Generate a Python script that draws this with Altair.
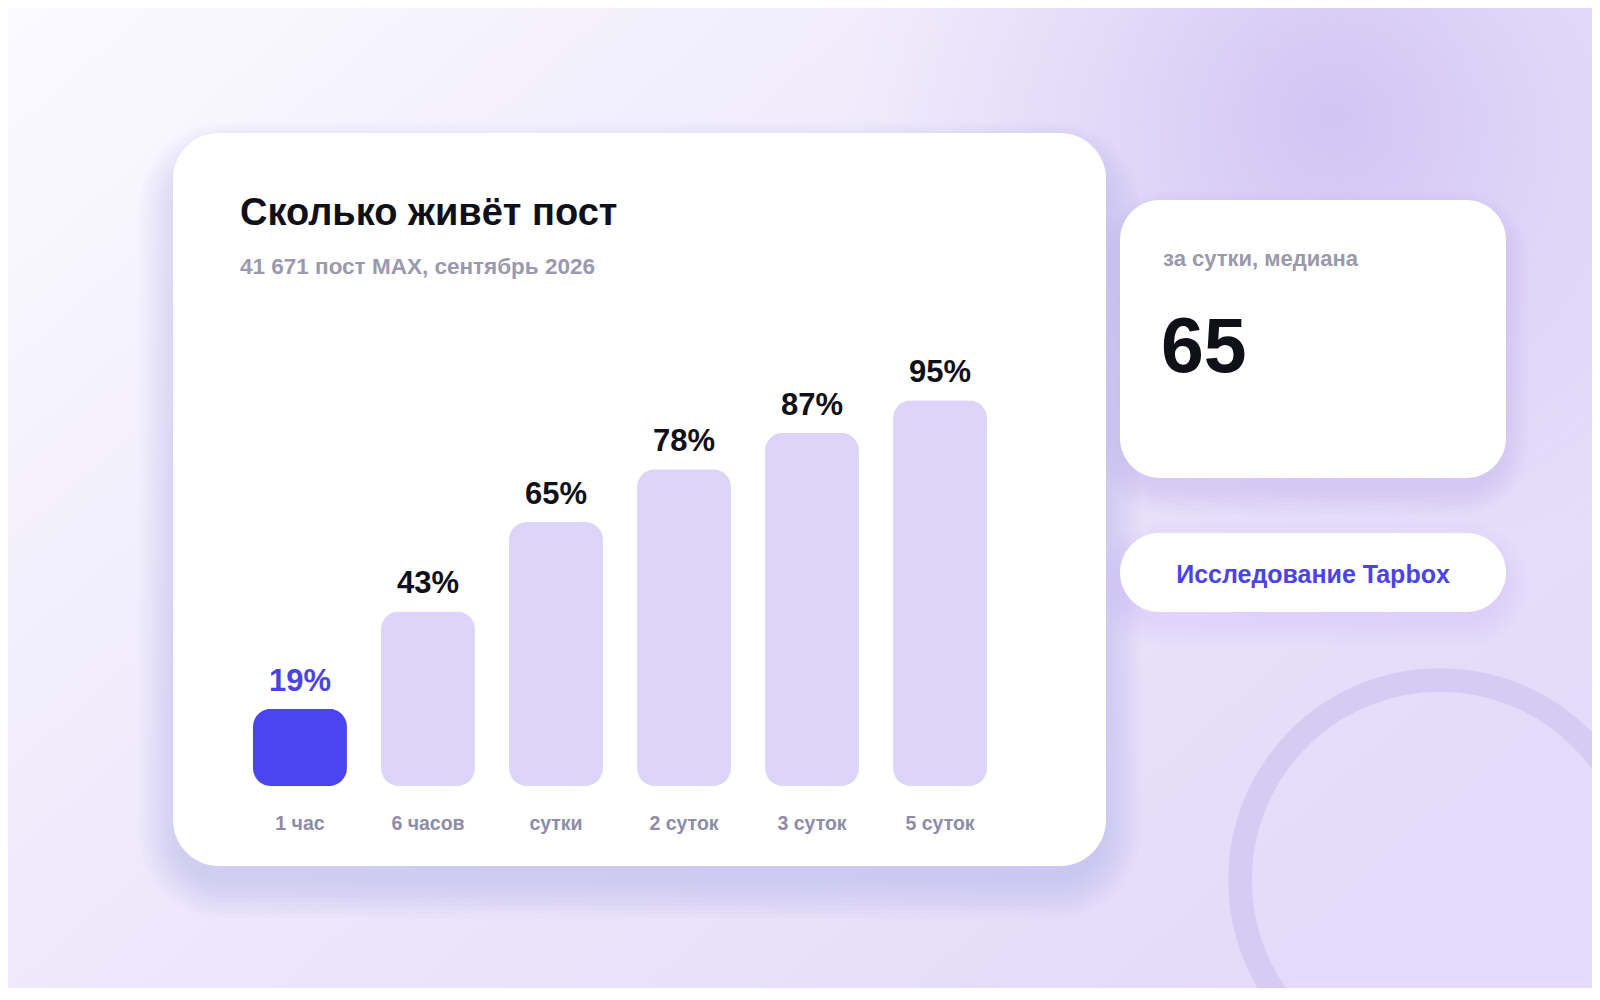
import altair as alt
import pandas as pd

# ---- data ----
categories = ["1 час", "6 часов", "сутки", "2 суток", "3 суток", "5 суток"]
values = [19, 43, 65, 78, 87, 95]
highlight = [1, 0, 0, 0, 0, 0]

title_text = "Сколько живёт пост"
subtitle_text = "41 671 пост MAX, сентябрь 2026"
side_caption = "за сутки, медиана"
side_value = "65"
pill_text = "Исследование Tapbox"

# ---- layout / style ----
W, H = 1584, 980
FONT = "Liberation Sans, Arial, Helvetica, sans-serif"
BAR_HI = "#4b45f0"
BAR_LO = "#ddd4f9"
TXT_DARK = "#101018"
TXT_GRAY = "#8e8ca6"
ACCENT = "#4a43e6"

df = pd.DataFrame({"cat": categories, "value": values, "hi": highlight})
df["label"] = [f"{v}%" for v in values]
one = pd.DataFrame({"k": [0]})


def rect(x0, x1, y0, y1, **kw):
    return alt.Chart(one).mark_rect(**kw).encode(
        x=alt.value(x0), x2=alt.value(x1), y=alt.value(y0), y2=alt.value(y1)
    )


def label(text, x, y, **kw):
    return alt.Chart(one).mark_text(text=text, font=FONT, **kw).encode(
        x=alt.value(x), y=alt.value(y)
    )


layers = []

# background
layers.append(rect(0, W, 0, H, fill=alt.LinearGradient(
    gradient="linear",
    stops=[alt.GradientStop(color="#fbfaff", offset=0),
           alt.GradientStop(color="#ede8fb", offset=0.5),
           alt.GradientStop(color="#e3dbf9", offset=1)],
    x1=0, y1=0, x2=1, y2=0.7)))
layers.append(rect(850, 1800, -300, 520, fill=alt.RadialGradient(
    gradient="radial",
    stops=[alt.GradientStop(color="rgba(204,188,242,0.8)", offset=0),
           alt.GradientStop(color="rgba(204,188,242,0.32)", offset=0.5),
           alt.GradientStop(color="rgba(204,188,242,0)", offset=1)],
    x1=0.5, y1=0.5, r1=0, x2=0.5, y2=0.5, r2=0.5)))

# decorative ring
layers.append(alt.Chart(one).mark_point(
    shape="circle", filled=False, size=160000, strokeWidth=23.5,
    color="#d5cbf3", opacity=1).encode(x=alt.value(1432), y=alt.value(872)))

# shadows
for k in range(1, 11):
    e = 4 * k
    layers.append(rect(165 - e + 6, 1098 + e - 6, 125 - e + 30, 858 + e + 12,
                       color="#8a72de", opacity=0.024, cornerRadius=46 + e))
for k in range(1, 8):
    e = 4 * k
    layers.append(rect(1112 - e + 6, 1498 + e - 6, 192 - e + 20, 470 + e + 8,
                       color="#8a72de", opacity=0.02, cornerRadius=40 + e))
    layers.append(rect(1112 - e + 6, 1498 + e - 6, 525 - e + 16, 604 + e + 6,
                       color="#8a72de", opacity=0.012, cornerRadius=40 + e))

# cards
layers.append(rect(165, 1098, 125, 858, color="#ffffff", cornerRadius=46))
layers.append(rect(1112, 1498, 192, 470, color="#ffffff", cornerRadius=40))
layers.append(rect(1112, 1498, 525, 604, color="#ffffff", cornerRadius=39.5))

# texts in cards
layers.append(label(title_text, 232, 217, fontSize=38, fontWeight="bold",
                    color=TXT_DARK, align="left", baseline="alphabetic"))
layers.append(label(subtitle_text, 232, 266, fontSize=22.5, fontWeight="bold",
                    color="#9a99ae", align="left", baseline="alphabetic"))
layers.append(label(side_caption, 1155, 258, fontSize=22, fontWeight="bold",
                    color="#9a99ae", align="left", baseline="alphabetic"))
layers.append(label(side_value, 1153, 364, fontSize=77, fontWeight="bold",
                    color=TXT_DARK, align="left", baseline="alphabetic"))
layers.append(label(pill_text, 1305, 575, fontSize=25, fontWeight="bold",
                    color=ACCENT, align="center", baseline="alphabetic"))

# bar chart
xenc = alt.X("cat:N", sort=categories, axis=None,
             scale=alt.Scale(range=[245, 979], paddingInner=0.266, paddingOuter=0))
yenc = alt.Y("value:Q", axis=None, scale=alt.Scale(domain=[0, 100], range=[778, 372]))

base = alt.Chart(df)
bars = base.mark_bar(cornerRadius=18).encode(
    x=xenc, y=yenc,
    color=alt.condition(alt.datum.hi == 1, alt.value(BAR_HI), alt.value(BAR_LO)),
)
vals = base.mark_text(font=FONT, fontSize=31, fontWeight="bold", dy=-18,
                      baseline="alphabetic", align="center").encode(
    x=xenc, y=yenc, text="label:N",
    color=alt.condition(alt.datum.hi == 1, alt.value(ACCENT), alt.value(TXT_DARK)),
)
xlabels = base.mark_text(font=FONT, fontSize=19.5, fontWeight="bold", color=TXT_GRAY,
                         baseline="alphabetic", align="center").encode(
    x=xenc, y=alt.value(822), text="cat:N")

layers += [bars, vals, xlabels]

chart = alt.layer(*layers).properties(
    width=W, height=H, padding=0, autosize="none", background="#f3f0fd"
).configure_view(strokeWidth=0)

chart.save("out.html", embed_options={"renderer": "svg", "actions": False})
